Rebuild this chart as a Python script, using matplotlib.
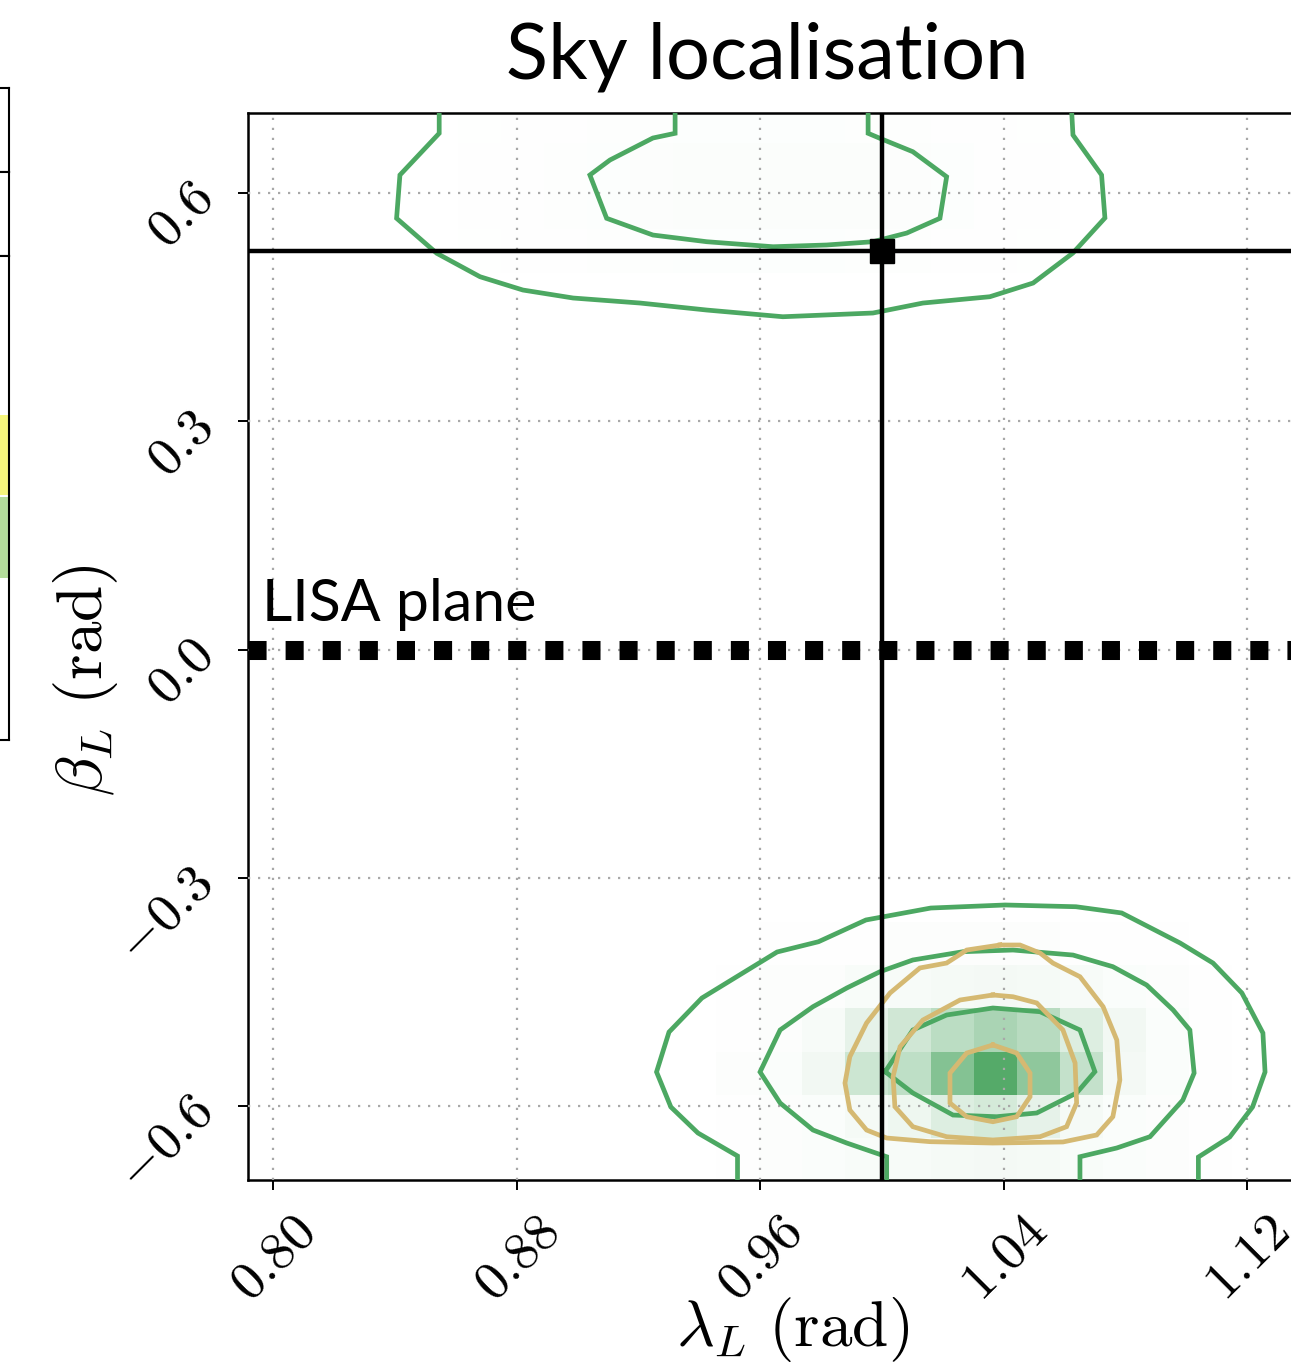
import matplotlib
matplotlib.use("Agg")
import matplotlib.pyplot as plt
import numpy as np
from matplotlib.colors import LinearSegmentedColormap

plt.rcParams["mathtext.fontset"] = "cm"
plt.rcParams["font.family"] = ["Lato", "DejaVu Sans"]

# ---------------- data ----------------
lam_true = 1.0
beta_true = 0.5236
lisa_plane = 0.0

x_ticks = [0.80, 0.88, 0.96, 1.04, 1.12]
x_ticklabels = ["0.80", "0.88", "0.96", "1.04", "1.12"]
y_ticks = [-0.6, -0.3, 0.0, 0.3, 0.6]
y_ticklabels = ["-0.6", "-0.3", "0.0", "0.3", "0.6"]

# 2D histogram bins (lambda shared by both sky modes)
lam_edges = [0.8607, 0.8748, 0.8889, 0.9031, 0.9172, 0.9313, 0.9454, 0.9596,
             0.9737, 0.9878, 1.0019, 1.0161, 1.0302, 1.0443, 1.0584, 1.0726,
             1.0867, 1.1008, 1.1149]
beta_edges_south = [-0.6994, -0.6425, -0.5856, -0.5287, -0.4716, -0.4147, -0.3578]
density_south = [
    [0, 0, 0, 0, 0, 0, 0.01, 0.02, 0.03, 0.04, 0.05, 0.06, 0.07, 0.06, 0.04, 0.03, 0.02, 0.01],
    [0, 0, 0, 0, 0, 0, 0.01, 0.02, 0.03, 0.06, 0.10, 0.20, 0.25, 0.15, 0.06, 0.03, 0.02, 0.01],
    [0, 0, 0, 0, 0, 0, 0.02, 0.03, 0.08, 0.30, 0.38, 0.72, 1.00, 0.66, 0.35, 0.07, 0.03, 0.01],
    [0, 0, 0, 0, 0, 0, 0.01, 0.02, 0.05, 0.15, 0.28, 0.40, 0.50, 0.42, 0.20, 0.08, 0.03, 0.01],
    [0, 0, 0, 0, 0, 0, 0.01, 0.02, 0.02, 0.04, 0.05, 0.06, 0.07, 0.06, 0.05, 0.03, 0.02, 0.01],
    [0, 0, 0, 0, 0, 0, 0.00, 0.01, 0.01, 0.01, 0.02, 0.02, 0.02, 0.02, 0.01, 0.01, 0.01, 0.00],
]
beta_edges_north = [0.4955, 0.5524, 0.6093, 0.6662, 0.7231]
density_north = [
    [0.005, 0.008, 0.010, 0.012, 0.014, 0.016, 0.016, 0.016, 0.016, 0.014, 0.012, 0.010, 0.008, 0.005, 0, 0, 0, 0],
    [0.008, 0.010, 0.012, 0.016, 0.020, 0.024, 0.026, 0.026, 0.026, 0.024, 0.020, 0.016, 0.010, 0.008, 0, 0, 0, 0],
    [0.008, 0.010, 0.012, 0.016, 0.020, 0.024, 0.026, 0.026, 0.026, 0.024, 0.020, 0.016, 0.010, 0.008, 0, 0, 0, 0],
    [0.005, 0.008, 0.010, 0.012, 0.014, 0.016, 0.016, 0.016, 0.016, 0.014, 0.012, 0.010, 0.008, 0.005, 0, 0, 0, 0],
]

# credible-region contours, green posterior (south mode)
south_outer_lam = [0.9526, 0.9526, 0.9396, 0.9307, 0.9260, 0.9301, 0.9409, 0.9656, 0.9792,
                   0.9948, 1.0161, 1.0405, 1.0638, 1.0788, 1.0980, 1.1088, 1.1183, 1.1252,
                   1.1259, 1.1218, 1.1143, 1.1040, 1.1040]
south_outer_beta = [-0.75, -0.6657, -0.6355, -0.6013, -0.5553, -0.5028, -0.4581, -0.3976, -0.3841,
                    -0.3555, -0.3398, -0.3358, -0.3381, -0.3463, -0.3858, -0.4121, -0.4515, -0.5041,
                    -0.5553, -0.6013, -0.6408, -0.6671, -0.75]
south_mid_lam = [1.0016, 1.0016, 0.9885, 0.9774, 0.9666, 0.9600, 0.9666, 0.9774, 0.9885, 0.9994,
                 1.0102, 1.0267, 1.0431, 1.0628, 1.0759, 1.0870, 1.0957, 1.1012, 1.1026, 1.0989,
                 1.0881, 1.0772, 1.0651, 1.0651]
south_mid_beta = [-0.75, -0.6667, -0.6487, -0.6316, -0.5961, -0.5553, -0.5001, -0.4695, -0.4449,
                  -0.4235, -0.4081, -0.3972, -0.3950, -0.4016, -0.4169, -0.4410, -0.4738, -0.5001,
                  -0.5567, -0.5922, -0.6404, -0.6552, -0.6667, -0.75]
south_inner_lam = [1.0011, 1.0102, 1.0213, 1.0365, 1.0520, 1.0651, 1.0700, 1.0640, 1.0509,
                   1.0377, 1.0234, 1.0102, 1.0011]
south_inner_beta = [-0.5549, -0.5001, -0.4804, -0.4712, -0.4761, -0.5001, -0.5549, -0.5829, -0.6092,
                    -0.6141, -0.6119, -0.5829, -0.5549]

# green posterior (north mode)
north_outer_lam = [0.8546, 0.8546, 0.8417, 0.8406, 0.8538, 0.8680, 0.8821, 0.8986, 0.9206, 0.9425,
                   0.9675, 0.9971, 1.0135, 1.0355, 1.0497, 1.0628, 1.0733, 1.0722, 1.0628, 1.0624,
                   1.0624]
north_outer_beta = [0.75, 0.6785, 0.6237, 0.5668, 0.5208, 0.4900, 0.4725, 0.4620, 0.4554, 0.4462,
                    0.4374, 0.4423, 0.4554, 0.4637, 0.4817, 0.5212, 0.5672, 0.6237, 0.6763, 0.7052,
                    0.75]
north_inner_lam = [0.9321, 0.9321, 0.9248, 0.9107, 0.9041, 0.9096, 0.9248, 0.9425, 0.9643, 0.9819,
                   0.9971, 1.0082, 1.0191, 1.0213, 1.0102, 0.9994, 0.9955, 0.9955]
north_inner_beta = [0.75, 0.6785, 0.6723, 0.6434, 0.6237, 0.5668, 0.5448, 0.5360, 0.5294, 0.5317,
                    0.5360, 0.5474, 0.5668, 0.6214, 0.6543, 0.6719, 0.6785, 0.75]

# gold posterior
gold_outer_lam = [1.0388, 1.0279, 1.0213, 1.0125, 1.0027, 0.9950, 0.9895, 0.9879, 0.9895, 0.9950,
                  1.0016, 1.0158, 1.0365, 1.0595, 1.0706, 1.0759, 1.0782, 1.0772, 1.0727, 1.0651,
                  1.0562, 1.0520, 1.0454, 1.0388]
gold_outer_beta = [-0.3884, -0.3950, -0.4121, -0.4186, -0.4515, -0.4909, -0.5352, -0.5698, -0.6053,
                   -0.6316, -0.6421, -0.6469, -0.6487, -0.6473, -0.6381, -0.6141, -0.5658, -0.5133,
                   -0.4695, -0.4301, -0.4121, -0.3990, -0.3884, -0.3884]
gold_mid_lam = [1.0365, 1.0257, 1.0135, 1.0060, 1.0037, 1.0043, 1.0102, 1.0213, 1.0365, 1.0520,
                1.0607, 1.0640, 1.0635, 1.0595, 1.0509, 1.0431, 1.0365]
gold_mid_beta = [-0.4541, -0.4607, -0.4870, -0.5221, -0.5615, -0.6009, -0.6272, -0.6404, -0.6447,
                 -0.6404, -0.6272, -0.5961, -0.5435, -0.5001, -0.4646, -0.4564, -0.4541]
gold_inner_lam = [1.0365, 1.0279, 1.0224, 1.0224, 1.0279, 1.0365, 1.0443, 1.0487, 1.0487, 1.0443,
                  1.0365]
gold_inner_beta = [-0.5198, -0.5304, -0.5567, -0.5961, -0.6141, -0.6207, -0.6141, -0.5878, -0.5567,
                   -0.5304, -0.5198]

# neighbouring panel: coloured bands (axes fraction)
band_lo = [0.335, 0.506]
band_hi = [0.502, 0.671]
band_colors = ["#B4DC9B", "#F5F57D"]

# ---------------- figure ----------------
GREEN = "#4CA862"
GOLD = "#D5B972"

fig = plt.figure(figsize=(12.91, 13.66), dpi=100)
ax = fig.add_axes([0.19210, 0.13616, 0.82262, 0.78111])

cmap = LinearSegmentedColormap.from_list("dens", ["#FFFFFF", "#55AA69"])
ax.pcolormesh(lam_edges, beta_edges_south, np.array(density_south), cmap=cmap,
              vmin=0, vmax=1, shading="flat", antialiased=False, zorder=1)
ax.pcolormesh(lam_edges, beta_edges_north, np.array(density_north), cmap=cmap,
              vmin=0, vmax=1, shading="flat", antialiased=False, zorder=1)

lw_c = 3.4
for xs, ys in [(south_outer_lam, south_outer_beta), (south_mid_lam, south_mid_beta),
               (south_inner_lam, south_inner_beta), (north_outer_lam, north_outer_beta),
               (north_inner_lam, north_inner_beta)]:
    ax.plot(xs, ys, color=GREEN, lw=lw_c, zorder=3, solid_joinstyle="miter")
for xs, ys in [(gold_outer_lam, gold_outer_beta), (gold_mid_lam, gold_mid_beta),
               (gold_inner_lam, gold_inner_beta)]:
    ax.plot(xs, ys, color=GOLD, lw=lw_c, zorder=3.2, solid_joinstyle="miter")

ax.axvline(lam_true, color="k", lw=3.2, zorder=4)
ax.axhline(beta_true, color="k", lw=3.2, zorder=4)
ax.plot([lam_true], [beta_true], marker="s", ms=17, color="k", zorder=5)

ax.axhline(lisa_plane, color="k", lw=13.7, ls=(0, (0.95, 1.0)), zorder=4)
ax.text(0.7964, 0.0375, "LISA plane", fontsize=42.5, ha="left", va="baseline", zorder=6)

ax.set_xlim(0.79179, 1.14067)
ax.set_ylim(-0.69729, 0.70518)

ax.set_xticks(x_ticks)
ax.set_xticklabels(["$" + t + "$" for t in x_ticklabels], rotation=45)
ax.set_yticks(y_ticks)
ax.set_yticklabels(["$" + t + "$" for t in y_ticklabels], rotation=45)
ax.tick_params(axis="both", labelsize=39, length=7, width=1.4, pad=12, direction="out")

ax.grid(True, ls=(0, (1, 3.5)), color="#A8A8A8", lw=1.6, zorder=2.5)
ax.set_axisbelow(False)
for s in ax.spines.values():
    s.set_linewidth(1.8)

ax.set_xlabel(r"$\lambda_L\ (\mathrm{rad})$", fontsize=47)
ax.xaxis.set_label_coords(0.5132, -0.1078)
ax.set_ylabel(r"$\beta_L\ (\mathrm{rad})$", fontsize=47)
ax.yaxis.set_label_coords(-0.1205, 0.4686)

ax.text(0.4887, 1.0328, "Sky localisation", transform=ax.transAxes, fontsize=56,
        ha="center", va="baseline")

# edge of the neighbouring panel column
side_w = 0.20697
for bottom, height in [(0.8741, 0.0615), (0.8126, 0.0615), (0.4583, 0.3543)]:
    a = fig.add_axes([-0.2, bottom, side_w, height])
    a.set_xticks([])
    a.set_yticks([])
    a.set_xlim(0, 1)
    a.set_ylim(0, 1)
    for s in a.spines.values():
        s.set_linewidth(1.5)
side = a
for lo, hi, c in zip(band_lo, band_hi, band_colors):
    side.axhspan(lo, hi, color=c, lw=0)

fig.savefig("out.png", dpi=100)
